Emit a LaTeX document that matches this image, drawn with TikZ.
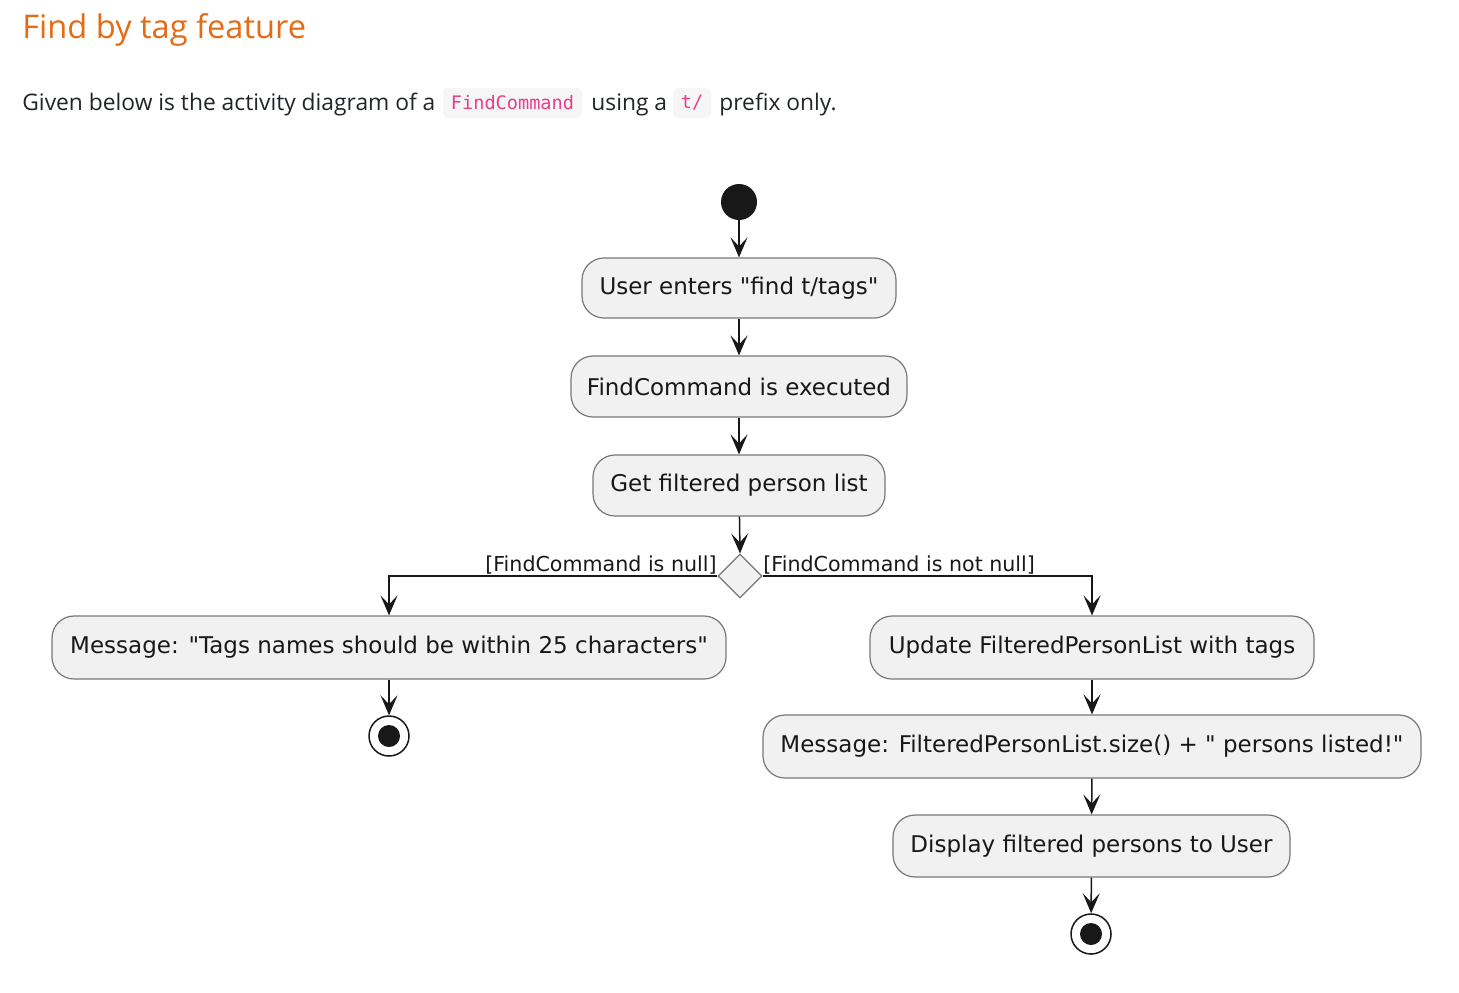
\documentclass[tikz,border=0pt]{standalone}
\usepackage{fontspec}
\usetikzlibrary{shapes.geometric,arrows.meta,positioning}
\setmainfont{Open Sans}
\newfontfamily\diafont{DejaVu Sans}
\newfontfamily\codefont{DejaVu Sans Mono}
\definecolor{titleorange}{RGB}{227,108,20}
\definecolor{bodytext}{RGB}{33,37,41}
\definecolor{codepink}{RGB}{232,62,140}
\definecolor{chipbg}{RGB}{246,246,246}
\definecolor{actfill}{RGB}{241,241,241}
\definecolor{actborder}{RGB}{120,120,120}
\definecolor{ink}{RGB}{24,24,24}
\tikzset{
  act/.style={draw=actborder, line width=0.6pt, fill=actfill, rounded corners=11pt,
    inner sep=0pt, font=\diafont\fontsize{11.5}{13}\selectfont, text=ink},
  chip/.style={fill=chipbg, rounded corners=2.5pt, inner sep=0pt, minimum height=15pt,
    font=\codefont\fontsize{9.3}{11}\selectfont, text=codepink},
  flow/.style={draw=ink, line width=0.75pt, -{Stealth[length=10pt,width=8.5pt,inset=4.5pt]}},
  guard/.style={font=\diafont\fontsize{10.3}{12}\selectfont, text=ink, inner sep=0pt},
  bodyline/.style={font=\fontsize{11.4}{13}\selectfont, text=bodytext, inner sep=0pt},
  startdot/.style={circle, fill=ink, minimum size=18pt, inner sep=0pt},
}
\begin{document}
\begin{tikzpicture}[x=0.5pt,y=-0.5pt]
\fill[white] (0,0) rectangle (1459,992);
\useasboundingbox (0,0) rectangle (1459,992);
% header
\node[anchor=base west, inner sep=0pt, text=titleorange, font=\fontsize{16.3}{20}\selectfont] (title) at (22,38) {Find by tag feature};
\node[bodyline, anchor=base west] (t1) at (22,110) {Given below is the activity diagram of a};
\node[chip, minimum width=69.5pt] (c1) at (512.5,103) {FindCommand};
\node[bodyline, anchor=base west] (t2) at (591,110) {using a};
\node[chip, minimum width=19pt] (c2) at (692,103) {t/};
\node[bodyline, anchor=base west] (t3) at (719,110) {prefix only.};
% diagram
\node[startdot] (start) at (739,202) {};
\node[act, minimum width=157pt, minimum height=30pt] (b1) at (739,288) {User enters "find t/tags"};
\node[act, minimum width=168pt, minimum height=30.5pt] (b2) at (739,386.5) {FindCommand is executed};
\node[act, minimum width=146pt, minimum height=30.5pt] (b3) at (739,485.5) {Get filtered person list};
\node[diamond, draw=actborder, line width=0.6pt, fill=actfill, minimum width=22pt, minimum height=22pt, inner sep=0pt] (dec) at (740,576) {};
\node[act, minimum width=337pt, minimum height=31.5pt] (left) at (389,647.5) {Message: "Tags names should be within 25 characters"};
\node[act, minimum width=222pt, minimum height=31.5pt] (r1) at (1092,647.5) {Update FilteredPersonList with tags};
\node[act, minimum width=329pt, minimum height=31.5pt] (r2) at (1092,746.5) {Message: FilteredPersonList.size() + " persons listed!"};
\node[act, minimum width=198.5pt, minimum height=31pt] (r3) at (1091.5,846) {Display filtered persons to User};
\node[circle, draw=ink, line width=0.75pt, fill=white, minimum size=20pt, inner sep=0pt] (endl) at (389,736) {};
\node[circle, fill=ink, minimum size=11pt, inner sep=0pt] at (endl) {};
\node[circle, draw=ink, line width=0.75pt, fill=white, minimum size=20pt, inner sep=0pt] (endr) at (1091,934) {};
\node[circle, fill=ink, minimum size=11pt, inner sep=0pt] at (endr) {};
\node[guard, anchor=base east] (gl) at (717,571) {[FindCommand is null]};
\node[guard, anchor=base west] (gr) at (763,571) {[FindCommand is not null]};
% connectors
\draw[flow] (start) -- (b1);
\draw[flow] (b1) -- (b2);
\draw[flow] (b2) -- (b3);
\draw[flow] (b3) -- (dec.north);
\draw[flow] (dec.west) -| (left.north);
\draw[flow] (dec.east) -| (r1.north);
\draw[flow] (left) -- (endl);
\draw[flow] (r1) -- (r2);
\draw[flow] (r2) -- (r3);
\draw[flow] (r3) -- (endr);
\end{tikzpicture}
\end{document}
